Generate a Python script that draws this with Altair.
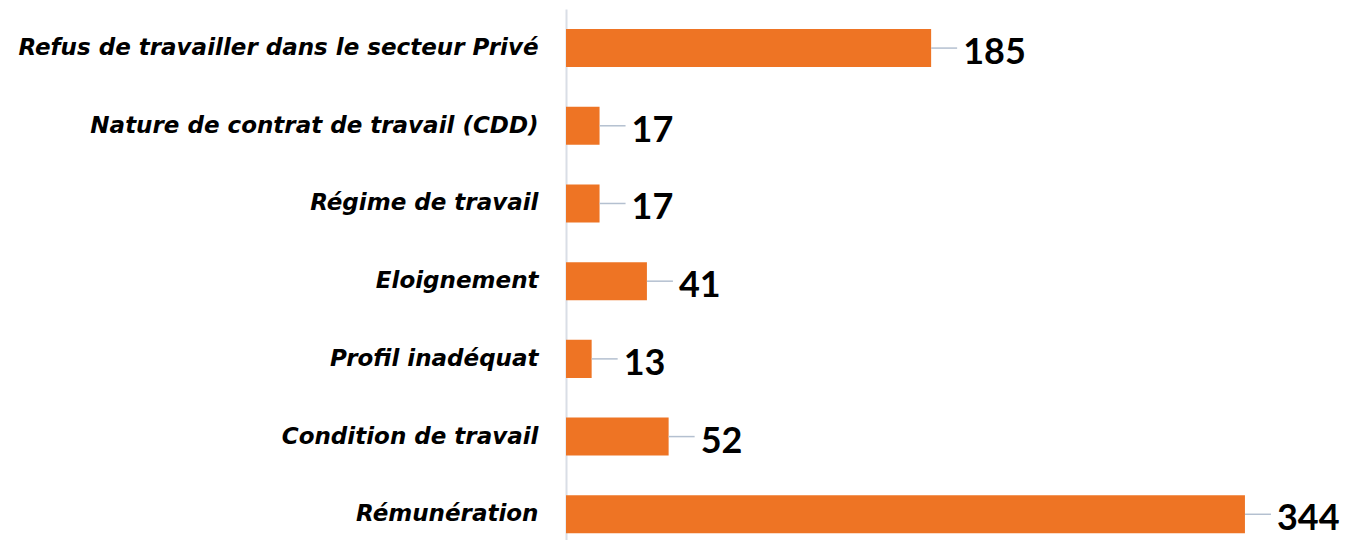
import altair as alt
import pandas as pd

categories = [
    "Refus de travailler dans le secteur Privé",
    "Nature de contrat de travail (CDD)",
    "Régime de travail",
    "Eloignement",
    "Profil inadéquat",
    "Condition de travail",
    "Rémunération",
]
values = [185, 17, 17, 41, 13, 52, 344]

df = pd.DataFrame({"motif": categories, "n": values})

y_enc = alt.Y(
    "motif:N",
    sort=categories,
    title=None,
    scale=alt.Scale(paddingInner=0.51, paddingOuter=0.172, align=0.75),
    axis=alt.Axis(
        domain=True,
        domainColor="#D9DEE6",
        domainWidth=2,
        ticks=False,
        grid=False,
        labelFont="DejaVu Sans",
        labelFontWeight="bold",
        labelFontStyle="italic",
        labelFontSize=23,
        labelColor="#000000",
        labelPadding=28,
        labelLimit=0,
    ),
)
x_enc = alt.X("n:Q", scale=alt.Scale(domain=[0, 380]), axis=None)

base = alt.Chart(df)

bars = base.mark_bar(color="#EE7424").encode(x=x_enc, y=y_enc)

leaders = base.mark_rule(color="#B4C0D0", strokeWidth=1.5, x2Offset=26).encode(
    x=x_enc, x2="n:Q", y=alt.Y("motif:N", sort=categories, bandPosition=0.5)
)

labels = base.mark_text(
    align="left",
    baseline="middle",
    dx=32,
    dy=5,
    font="Lato",
    fontWeight="bold",
    fontSize=36,
    color="#000000",
).encode(x=x_enc, y=alt.Y("motif:N", sort=categories), text="n:Q")

chart = (
    alt.layer(bars, leaders, labels)
    .properties(
        width=750,
        height=531,
        padding={"left": 558, "top": 1, "right": 26, "bottom": 0},
        autosize=alt.AutoSizeParams(type="none"),
        background="#FFFFFF",
    )
    .configure_view(stroke=None)
)

chart.save("out.html", embed_options={"renderer": "svg", "actions": False})
